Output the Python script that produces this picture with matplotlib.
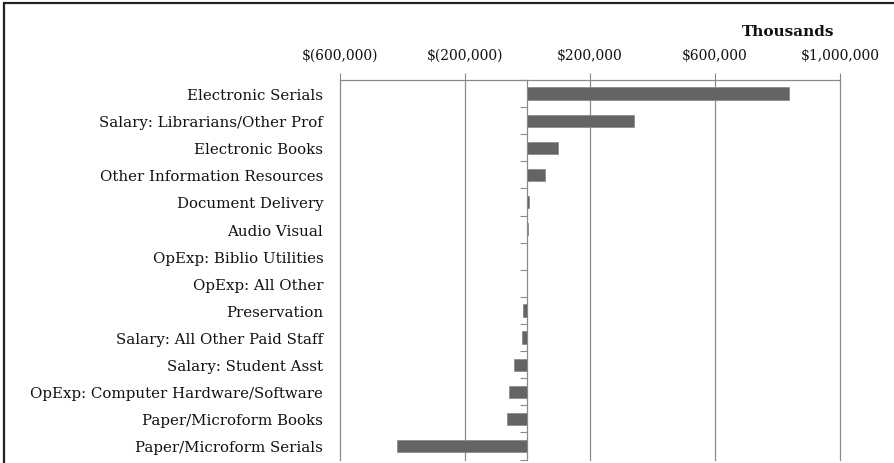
import matplotlib
matplotlib.use("Agg")
import matplotlib.pyplot as plt
from matplotlib.ticker import FuncFormatter
from matplotlib.patches import Rectangle

categories = [
    "Electronic Serials",
    "Salary: Librarians/Other Prof",
    "Electronic Books",
    "Other Information Resources",
    "Document Delivery",
    "Audio Visual",
    "OpExp: Biblio Utilities",
    "OpExp: All Other",
    "Preservation",
    "Salary: All Other Paid Staff",
    "Salary: Student Asst",
    "OpExp: Computer Hardware/Software",
    "Paper/Microform Books",
    "Paper/Microform Serials",
]
values = [837000, 341000, 98000, 56000, 4000, 3000, -3000, -3000,
          -13000, -19000, -42000, -58000, -66000, -417000]
xticks = [-600000, -200000, 200000, 600000, 1000000]

plt.rcParams['font.family'] = ['DejaVu Serif']
fig = plt.figure(figsize=(8.95, 4.64), dpi=100)
ax = fig.add_axes([340/895, 1 - 460.5/464, 500/895, (460.5 - 81)/464])

grid_c = "#8a8a8a"
ypos = list(range(len(categories)))
ax.barh(ypos, values, height=0.45, color="#646464", edgecolor="#8c8c8c", linewidth=0.6, zorder=3)
ax.set_ylim(len(categories) - 0.5, -0.5)
ax.set_xlim(-600000, 1000000)

ax.xaxis.tick_top()
ax.set_xticks(xticks)
def fmt(v, pos):
    if v < 0:
        return "$({:,.0f})".format(-v)
    return "${:,.0f}".format(v)
ax.xaxis.set_major_formatter(FuncFormatter(fmt))
ax.tick_params(axis='x', length=5, width=0.8, color=grid_c, pad=8, labelsize=10, labelcolor="#111111")
ax.grid(axis='x', color=grid_c, linewidth=0.9, zorder=0)
for gl in ax.get_xgridlines():
    gl.set_clip_on(False)

ax.set_yticks(ypos)
ax.set_yticklabels(categories)
ax.tick_params(axis='y', length=0, pad=12, labelsize=10.8, labelcolor="#111111")

for s in ['left', 'right', 'bottom']:
    ax.spines[s].set_visible(False)
ax.spines['top'].set_color(grid_c)
ax.spines['top'].set_linewidth(0.9)

# category axis at zero
zero_frac = (0 - xticks[0]) / (ax.get_xlim()[1] - ax.get_xlim()[0])
sec = ax.secondary_yaxis(zero_frac)
sec.set_yticks([i + 0.5 for i in range(-1, len(categories))])
sec.set_yticklabels([])
sec.tick_params(axis='y', length=5, width=0.8, color=grid_c, direction='out')
sec.spines['left'].set_color(grid_c)
sec.spines['left'].set_linewidth(0.9)

fig.text(834/895, 1 - 32/464, "Thousands", ha='right', va='center',
         fontsize=11, fontweight='bold', color="#111111")

fig.patches.append(Rectangle((4/895, -0.5), 2.0, 0.5 + (1 - 3.5/464),
                             transform=fig.transFigure, fill=False,
                             edgecolor="#222222", linewidth=1.6))

fig.savefig("out.png", dpi=100)
